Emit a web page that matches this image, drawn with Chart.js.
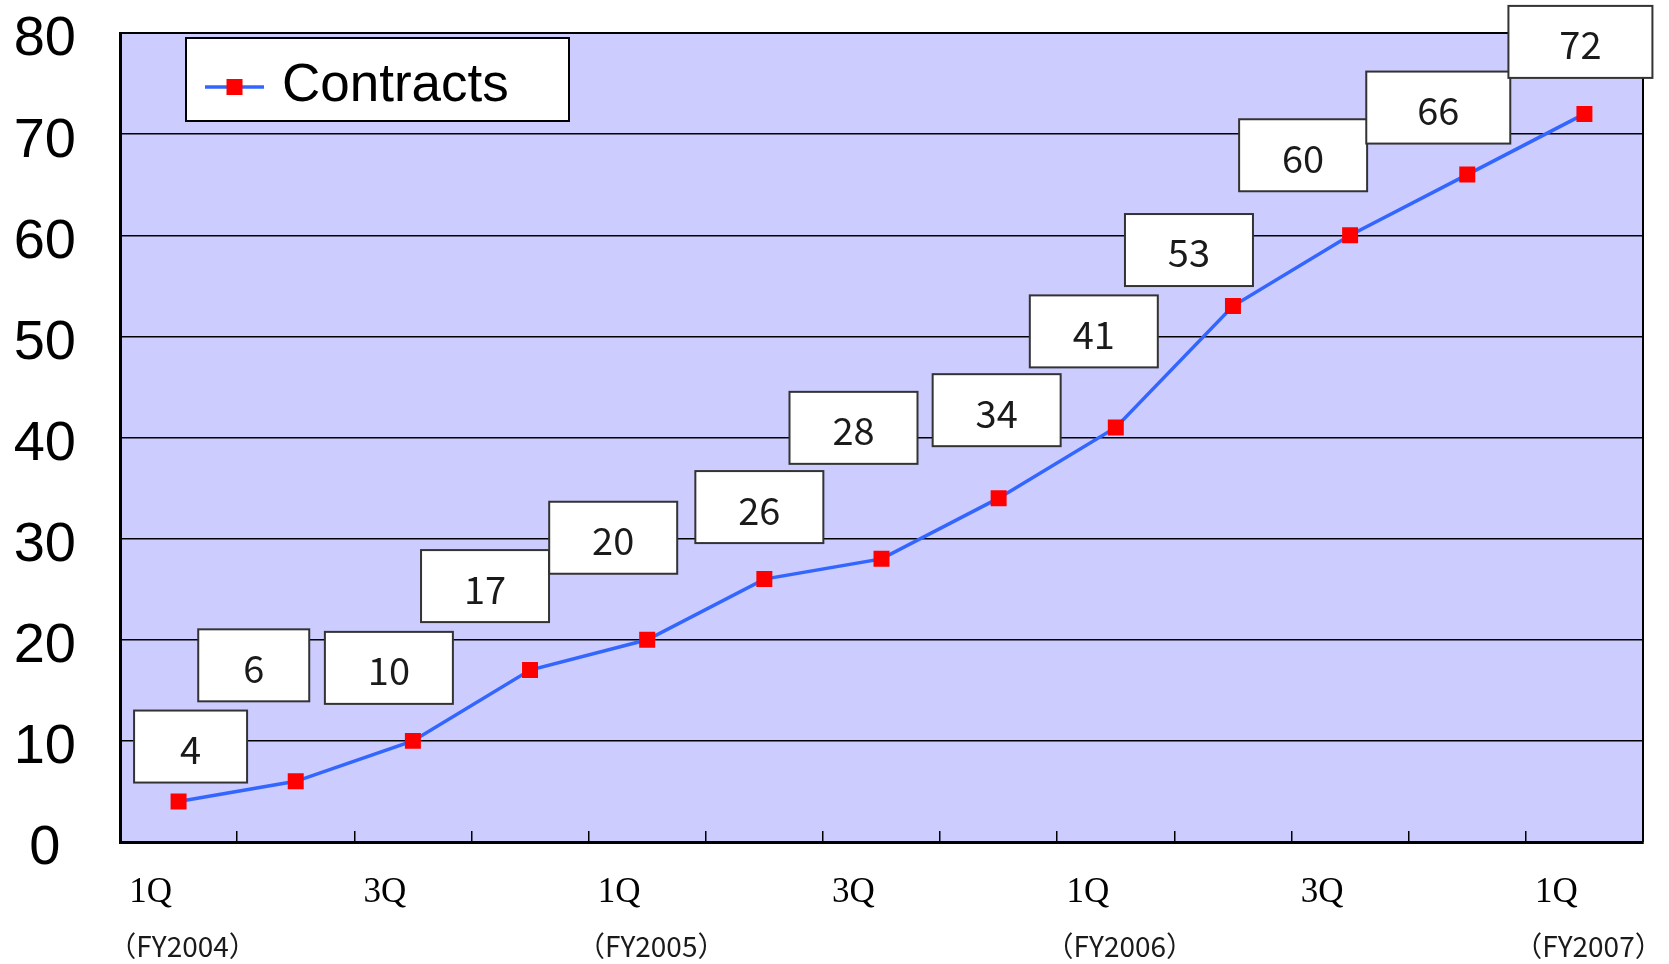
<!DOCTYPE html>
<html>
<head>
<meta charset="utf-8">
<script src="https://cdn.jsdelivr.net/npm/chart.js@4.4.1/dist/chart.umd.min.js"></script>
<style>
  html, body { margin: 0; padding: 0; background: #ffffff; }
  canvas { display: block; }
</style>
</head>
<body>
<canvas id="chart" width="1669" height="964"></canvas>
<script>
// Quarterly cumulative contracts
const quarters    = ['1Q', '2Q', '3Q', '4Q', '1Q', '2Q', '3Q', '4Q', '1Q', '2Q', '3Q', '4Q', '1Q'];
const fiscalYears = ['FY2004', 'FY2004', 'FY2004', 'FY2004', 'FY2005', 'FY2005', 'FY2005', 'FY2005',
                     'FY2006', 'FY2006', 'FY2006', 'FY2006', 'FY2007'];
const contracts   = [4, 6, 10, 17, 20, 26, 28, 34, 41, 53, 60, 66, 72];

// Axis tick labels
const quarterTicks = ['1Q', '', '3Q', '', '1Q', '', '3Q', '', '1Q', '', '3Q', '', '1Q'];
const yearTicks    = ['（FY2004）', '', '', '', '（FY2005）', '', '', '', '（FY2006）', '', '', '', '（FY2007）'];

// Value callouts: offset of each box centre from its point, and box width (px)
const calloutDx = [12, -42, -24, -45, -34, -5, -28, -2, -22, -44, -47, -29, -4];
const calloutDy = [-55, -116, -73, -84, -102, -72, -131, -88, -96, -56, -80, -67, -72];
const calloutW  = [113, 111, 128, 128, 128, 128, 128, 128, 128, 128, 128, 144, 144];
const calloutH  = 72;

const categories = quarters.map((q, i) => q + ' ' + fiscalYears[i]);

const plotFrame = {
  id: 'plotFrame',
  beforeDraw(chart) {
    const { ctx, chartArea: a } = chart;
    ctx.save();
    ctx.fillStyle = '#CCCCFF';
    ctx.fillRect(a.left, a.top, a.right - a.left, a.bottom - a.top);
    ctx.restore();
  },
  beforeDatasetsDraw(chart) {
    const { ctx, chartArea: a } = chart;
    ctx.save();
    ctx.strokeStyle = '#000';
    ctx.lineWidth = 2;
    ctx.beginPath();
    ctx.moveTo(a.left, a.top);
    ctx.lineTo(a.right, a.top);
    ctx.lineTo(a.right, a.bottom);
    ctx.stroke();
    ctx.restore();
  }
};

const callouts = {
  id: 'callouts',
  afterDatasetsDraw(chart) {
    const { ctx } = chart;
    const meta = chart.getDatasetMeta(0);
    const values = chart.data.datasets[0].data;
    ctx.save();
    meta.data.forEach((pt, i) => {
      const cx = pt.x + calloutDx[i];
      const cy = pt.y + calloutDy[i];
      const w = calloutW[i];
      ctx.fillStyle = '#FFFFFF';
      ctx.fillRect(cx - w / 2, cy - calloutH / 2, w, calloutH);
      ctx.strokeStyle = '#333333';
      ctx.lineWidth = 2;
      ctx.strokeRect(cx - w / 2, cy - calloutH / 2, w, calloutH);
      ctx.fillStyle = '#1a1a1a';
      ctx.font = '38px "Noto Sans CJK JP"';
      ctx.textAlign = 'center';
      ctx.textBaseline = 'middle';
      ctx.fillText(String(values[i]), cx, cy + 3);
    });
    ctx.restore();
  }
};

const legendBox = {
  id: 'legendBox',
  afterDatasetsDraw(chart) {
    const { ctx } = chart;
    const ds = chart.data.datasets[0];
    const x = 186, y = 38, w = 383, h = 83;
    ctx.save();
    ctx.fillStyle = '#FFFFFF';
    ctx.fillRect(x, y, w, h);
    ctx.strokeStyle = '#000';
    ctx.lineWidth = 2;
    ctx.strokeRect(x, y, w, h);
    const ly = y + 49;
    ctx.strokeStyle = ds.borderColor;
    ctx.lineWidth = 3.5;
    ctx.beginPath();
    ctx.moveTo(x + 19, ly);
    ctx.lineTo(x + 78, ly);
    ctx.stroke();
    ctx.fillStyle = ds.pointBackgroundColor;
    ctx.fillRect(x + 48.5 - 8, ly - 8, 16, 16);
    ctx.fillStyle = '#000';
    ctx.font = '53px "Liberation Sans"';
    ctx.textAlign = 'left';
    ctx.textBaseline = 'alphabetic';
    ctx.fillText(ds.label, x + 96, y + 63);
    ctx.restore();
  }
};

new Chart(document.getElementById('chart'), {
  type: 'line',
  data: {
    labels: categories,
    datasets: [{
      label: 'Contracts',
      data: contracts,
      borderColor: '#3366FF',
      borderWidth: 3.5,
      tension: 0,
      pointStyle: 'rect',
      pointRadius: 11.3,
      pointHoverRadius: 11.3,
      pointBackgroundColor: '#FF0000',
      pointBorderColor: '#FF0000',
      pointBorderWidth: 0,
      xAxisID: 'x',
      yAxisID: 'y'
    }]
  },
  options: {
    responsive: false,
    animation: false,
    devicePixelRatio: 1,
    layout: { padding: { top: 33, right: 26, bottom: 0, left: 0 } },
    plugins: { legend: { display: false }, tooltip: { enabled: false } },
    scales: {
      y: {
        min: 0,
        max: 80,
        ticks: {
          stepSize: 10,
          color: '#000',
          font: { family: '"Liberation Sans"', size: 56, lineHeight: 1 },
          crossAlign: 'center',
          padding: 0,
          labelOffset: 7
        },
        grid: {
          color: '#000',
          lineWidth: 1.5,
          drawTicks: true,
          tickLength: 44,
          tickColor: 'rgba(0,0,0,0)'
        },
        border: { display: true, color: '#000', width: 3 },
        afterFit(scale) { scale.width = 120; }
      },
      x: {
        position: 'bottom',
        offset: true,
        weight: 0,
        grid: {
          offset: true,
          drawOnChartArea: false,
          drawTicks: true,
          tickLength: -11,
          color: '#000',
          lineWidth: 1.5
        },
        border: { display: true, color: '#000', width: 3 },
        ticks: {
          autoSkip: false,
          maxRotation: 0,
          minRotation: 0,
          color: '#000',
          font: { family: '"Liberation Serif"', size: 35 },
          padding: 41,
          labelOffset: -28,
          callback: (v, i) => quarterTicks[i]
        },
        afterFit(scale) { scale.height = 75; }
      },
      x2: {
        type: 'category',
        position: 'bottom',
        offset: true,
        weight: 1,
        grid: { display: false, drawTicks: false },
        border: { display: false },
        ticks: {
          autoSkip: false,
          maxRotation: 0,
          minRotation: 0,
          color: '#1a1a1a',
          font: { family: '"Noto Sans CJK JP"', size: 28, lineHeight: 2.07 },
          padding: 0,
          labelOffset: 4,
          callback: (v, i) => yearTicks[i]
        },
        afterFit(scale) { scale.height = 47; }
      }
    }
  },
  plugins: [plotFrame, callouts, legendBox]
});
</script>
</body>
</html>
